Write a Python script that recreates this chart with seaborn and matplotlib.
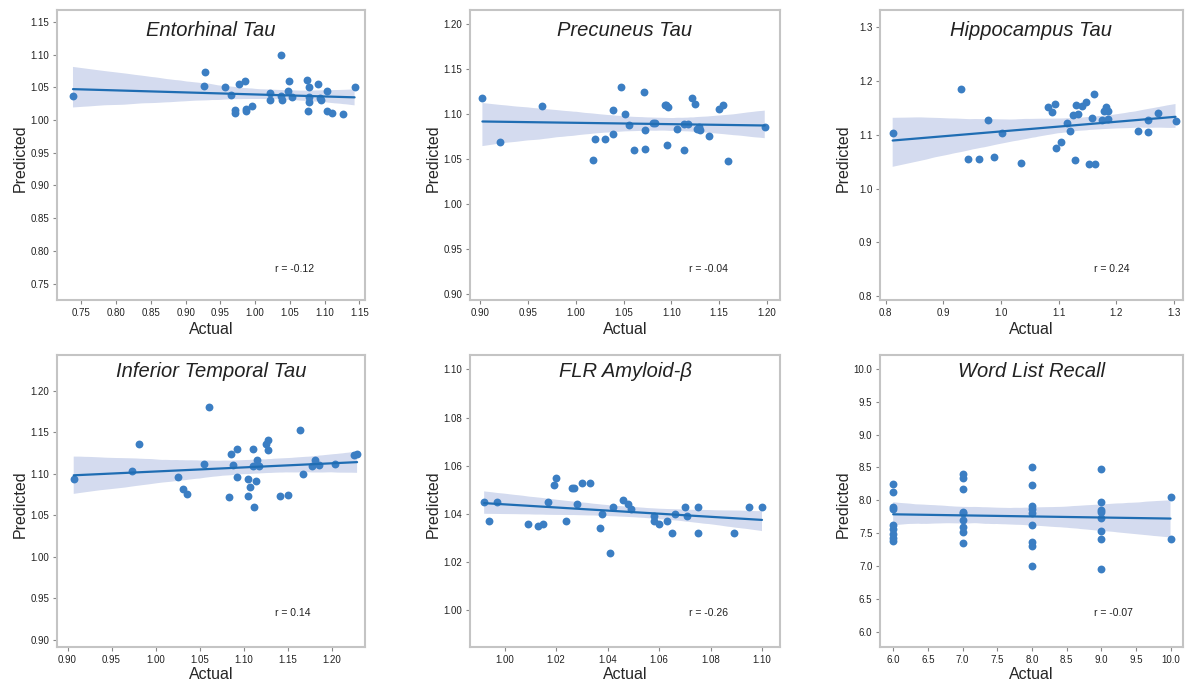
import numpy as np
import pandas as pd
import matplotlib
matplotlib.use("Agg")
import matplotlib.pyplot as plt
import seaborn as sns
from matplotlib.collections import PolyCollection
from matplotlib.ticker import FormatStrFormatter

# ---------------- data ----------------
titles = ["Entorhinal Tau", "Precuneus Tau", "Hippocampus Tau",
          "Inferior Temporal Tau", "FLR Amyloid-\u03b2", "Word List Recall"]
r_labels = ["r = -0.12", "r = -0.04", "r = 0.24", "r = 0.14", "r = -0.26", "r = -0.07"]

ent_actual = [0.738, 0.928, 0.926, 0.957, 0.965, 0.971, 0.971, 0.977, 0.985, 0.987, 0.987,
              0.995, 1.021, 1.022, 1.037, 1.037, 1.039, 1.047, 1.048, 1.053, 1.075, 1.077,
              1.078, 1.077, 1.076, 1.091, 1.093, 1.095, 1.103, 1.104, 1.111, 1.126, 1.143]
ent_pred = [1.037, 1.074, 1.052, 1.051, 1.038, 1.016, 1.010, 1.055, 1.059, 1.017, 1.013,
            1.021, 1.041, 1.031, 1.100, 1.037, 1.031, 1.045, 1.060, 1.035, 1.061, 1.050,
            1.035, 1.028, 1.014, 1.055, 1.034, 1.030, 1.045, 1.014, 1.010, 1.009, 1.050]

prec_actual = [0.902, 0.920, 0.964, 1.018, 1.020, 1.031, 1.039, 1.039, 1.047, 1.052, 1.056,
               1.061, 1.071, 1.072, 1.072, 1.081, 1.083, 1.093, 1.095, 1.097, 1.096, 1.106,
               1.113, 1.113, 1.118, 1.122, 1.125, 1.127, 1.129, 1.130, 1.140, 1.150, 1.154,
               1.160, 1.198]
prec_pred = [1.117, 1.068, 1.108, 1.049, 1.072, 1.072, 1.077, 1.104, 1.130, 1.100, 1.087,
             1.059, 1.124, 1.082, 1.061, 1.089, 1.090, 1.110, 1.110, 1.107, 1.065, 1.083,
             1.059, 1.088, 1.088, 1.117, 1.111, 1.083, 1.085, 1.082, 1.075, 1.105, 1.110,
             1.047, 1.085]

hip_actual = [0.812, 0.930, 0.942, 0.962, 0.977, 0.988, 1.001, 1.035, 1.082, 1.088, 1.093,
              1.096, 1.105, 1.114, 1.120, 1.125, 1.128, 1.130, 1.133, 1.140, 1.147, 1.152,
              1.158, 1.161, 1.164, 1.176, 1.178, 1.183, 1.185, 1.186, 1.238, 1.255, 1.256,
              1.272, 1.303]
hip_pred = [1.103, 1.186, 1.055, 1.055, 1.127, 1.059, 1.104, 1.048, 1.151, 1.143, 1.158,
            1.075, 1.086, 1.122, 1.107, 1.136, 1.053, 1.156, 1.139, 1.154, 1.161, 1.046,
            1.132, 1.175, 1.046, 1.128, 1.145, 1.151, 1.144, 1.129, 1.107, 1.106, 1.128,
            1.140, 1.126]

inf_actual = [0.907, 0.973, 0.981, 1.025, 1.031, 1.036, 1.055, 1.061, 1.083, 1.086, 1.088,
              1.092, 1.093, 1.105, 1.107, 1.105, 1.112, 1.111, 1.111, 1.115, 1.114, 1.117,
              1.126, 1.128, 1.128, 1.141, 1.150, 1.164, 1.167, 1.178, 1.181, 1.186, 1.204,
              1.225, 1.229]
inf_pred = [1.093, 1.103, 1.136, 1.096, 1.081, 1.076, 1.112, 1.180, 1.072, 1.124, 1.110,
            1.130, 1.096, 1.094, 1.084, 1.073, 1.060, 1.130, 1.109, 1.116, 1.091, 1.109,
            1.136, 1.140, 1.128, 1.073, 1.074, 1.153, 1.100, 1.109, 1.116, 1.111, 1.112,
            1.122, 1.124]

flr_actual = [0.992, 0.994, 0.997, 1.009, 1.013, 1.015, 1.017, 1.019, 1.020, 1.024, 1.026,
              1.027, 1.028, 1.030, 1.033, 1.037, 1.038, 1.041, 1.042, 1.046, 1.048, 1.049,
              1.058, 1.058, 1.060, 1.063, 1.065, 1.066, 1.070, 1.071, 1.075, 1.075, 1.089,
              1.095, 1.100]
flr_pred = [1.045, 1.037, 1.045, 1.036, 1.035, 1.036, 1.045, 1.052, 1.055, 1.037, 1.051,
            1.051, 1.044, 1.053, 1.053, 1.034, 1.040, 1.024, 1.043, 1.046, 1.044, 1.042,
            1.039, 1.037, 1.036, 1.037, 1.032, 1.040, 1.043, 1.039, 1.043, 1.032, 1.032,
            1.043, 1.043]

wlr_actual = [6, 6, 6, 6, 6, 6, 6, 6, 6,
              7, 7, 7, 7, 7, 7, 7, 7, 7,
              8, 8, 8, 8, 8, 8, 8, 8, 8,
              9, 9, 9, 9, 9, 9, 9, 9,
              10, 10]
wlr_pred = [8.25, 8.13, 7.90, 7.87, 7.62, 7.57, 7.49, 7.43, 7.38,
            8.40, 8.34, 8.17, 7.83, 7.80, 7.70, 7.60, 7.52, 7.35,
            8.51, 8.24, 7.91, 7.87, 7.80, 7.63, 7.36, 7.31, 7.00,
            8.47, 7.98, 7.85, 7.83, 7.73, 7.53, 7.41, 6.95,
            8.05, 7.41]

xs = [ent_actual, prec_actual, hip_actual, inf_actual, flr_actual, wlr_actual]
ys = [ent_pred, prec_pred, hip_pred, inf_pred, flr_pred, wlr_pred]

ticks = [np.arange(0.75, 1.151, 0.05), np.arange(0.90, 1.201, 0.05), np.arange(0.8, 1.301, 0.1),
         np.arange(0.90, 1.201, 0.05), np.arange(1.00, 1.101, 0.02), np.arange(6.0, 10.01, 0.5)]
fmts = ["%.2f", "%.2f", "%.1f", "%.2f", "%.2f", "%.1f"]
xlims = [(0.715, 1.158), (0.889, 1.214), (0.790, 1.316), (0.888, 1.238), (0.9865, 1.107), (5.81, 10.18)]
ylims = [(0.725, 1.168), (0.893, 1.215), (0.793, 1.332), (0.891, 1.243), (0.9848, 1.106), (5.77, 10.21)]

# ---------------- style ----------------
sns.set_style("ticks")
plt.rcParams["font.family"] = ["Liberation Sans", "DejaVu Sans"]

W, H = 1186, 681
fig = plt.figure(figsize=(W / 100, H / 100), dpi=100)

cols = [(57, 365), (470, 780), (880, 1183)]
rows = [(10, 300), (355, 647)]

pt_color = "#3b7ec3"
line_color = "#1f6db3"
band_color = "#d4dbef"
spine_color = "#c4c4c4"

for i in range(6):
    r, c = divmod(i, 3)
    x0, x1 = cols[c]
    y0, y1 = rows[r]
    ax = fig.add_axes([x0 / W, 1 - y1 / H, (x1 - x0) / W, (y1 - y0) / H])
    df = pd.DataFrame({"Actual": xs[i], "Predicted": ys[i]})
    sns.regplot(data=df, x="Actual", y="Predicted", ax=ax, color=pt_color, seed=0,
                scatter_kws=dict(s=32, alpha=1, linewidths=0, zorder=2),
                line_kws=dict(color=line_color, lw=1.6, zorder=3))
    for coll in ax.collections:
        if isinstance(coll, PolyCollection):
            coll.set_facecolor(band_color)
            coll.set_alpha(1)
            coll.set_edgecolor("none")
            coll.set_zorder(0.5)
    ax.set_xticks(ticks[i])
    ax.set_yticks(ticks[i])
    ax.xaxis.set_major_formatter(FormatStrFormatter(fmts[i]))
    ax.yaxis.set_major_formatter(FormatStrFormatter(fmts[i]))
    ax.set_xlim(*xlims[i])
    ax.set_ylim(*ylims[i])
    for s in ax.spines.values():
        s.set_visible(True)
        s.set_color(spine_color)
        s.set_linewidth(1.5)
    ax.tick_params(axis="both", labelsize=7, length=3, width=0.8, color="#888888",
                   labelcolor="#222222", pad=2.5)
    ax.set_xlabel("Actual", fontsize=11.5, labelpad=3 if r == 0 else 1.5)
    ax.set_ylabel("Predicted", fontsize=11.5)
    ax.yaxis.set_label_coords(-0.095, 0.49)
    ax.text(0.5, 0.93 if r == 0 else 0.945, titles[i], transform=ax.transAxes,
            ha="center", va="center", fontsize=14.5, style="italic", color="#222222")
    ax.text(0.707, 0.108 if r == 0 else 0.115, r_labels[i], transform=ax.transAxes,
            ha="left", va="center", fontsize=7.5, color="#222222")

fig.savefig("out.png", dpi=100)
